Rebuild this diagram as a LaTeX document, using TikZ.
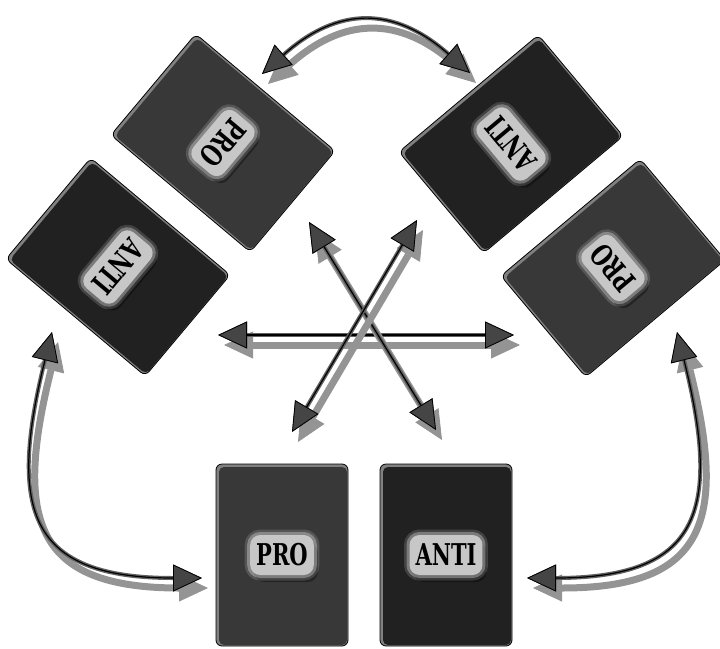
\documentclass[tikz,border=0pt]{standalone}
\usepackage{fontspec}
\usetikzlibrary{arrows.meta}
\newfontfamily\tagfont[FakeStretch=0.7]{DejaVu Serif}

\begin{document}
\begin{tikzpicture}[x=1pt,y=-1pt,
    head/.tip={Triangle[length=29pt,width=27pt,line width=0.8pt]},
    box/.style={draw=black,line width=0.8pt,fill=black!50,rounded corners=6pt,
      minimum width=132pt,minimum height=182pt,inner sep=0pt},
    face/.style={rounded corners=5pt,minimum width=128pt,minimum height=178pt,inner sep=0pt},
    proface/.style={face,fill=black!78},
    antiface/.style={face,fill=black!87},
    tag/.style={fill=black!22,rounded corners=10pt,minimum height=40pt,inner xsep=6pt,
      font=\tagfont\bfseries\fontsize{30}{30}\selectfont,
      preaction={fill=black,opacity=0.35,transform canvas={shift={(4pt,-7pt)}}},
      preaction={draw=white,line width=11pt,opacity=0.15},
      preaction={draw=white,line width=6pt,opacity=0.3}},
    link/.style={line width=1.2pt,draw=black,{head[fill=black!73]}-{head[fill=black!73]},
      preaction={draw=black!42,line width=7pt,{head}-{head},transform canvas={shift={(6pt,-10pt)}}},
      preaction={draw=black!62,line width=4pt}}]
    \useasboundingbox (0,0) rectangle (720,648);
    % Arrow ends
    \coordinate (TL) at (262,74);  % top arc, left
    \coordinate (TR) at (470,73);  % top arc, right
    \coordinate (HL) at (218,335); % middle, left
    \coordinate (HR) at (514,335); % middle, right
    \coordinate (DA) at (309,222); % middle, top left
    \coordinate (DB) at (436,430); % middle, bottom right
    \coordinate (DC) at (417,220); % middle, top right
    \coordinate (DD) at (292,432); % middle, bottom left
    \coordinate (LT) at (52,332);  % left curve, top
    \coordinate (LB) at (202,578); % left curve, bottom
    \coordinate (RT) at (677,332); % right curve, top
    \coordinate (RB) at (527,578); % right curve, bottom
    \draw[link] (TL) .. controls +(76,-68) and +(-76,-67) .. (TR);
    \draw[link] (HL) -- (HR);
    \draw[link] (DA) -- (DB);
    \draw[link] (DC) -- (DD);
    \draw[link] (LT) .. controls +(-45,180) and +(-172,0) .. (LB);
    \draw[link] (RT) .. controls +(45,180) and +(172,0) .. (RB);
    % Bottom pair
    \node[box] (pro1) at (282,555) {};
    \node[proface] (pro1f) at ([shift={(1,1)}]pro1.center) {};
    \node[tag] (pro1t) at (pro1) {PRO};
    \node[box] (anti1) at (446,555) {};
    \node[antiface] (anti1f) at ([shift={(1,1)}]anti1.center) {};
    \node[tag] (anti1t) at (anti1) {ANTI};
    % Top left pair
    \node[box,rotate=-130] (pro2) at (223,143) {};
    \node[proface,rotate=-130] (pro2f) at ([shift={(1,1)}]pro2.center) {};
    \node[tag,rotate=-130] (pro2t) at (pro2) {PRO};
    \node[box,rotate=-130] (anti2) at (118,267) {};
    \node[antiface,rotate=-130] (anti2f) at ([shift={(1,1)}]anti2.center) {};
    \node[tag,rotate=-130] (anti2t) at (anti2) {ANTI};
    % Top right pair
    \node[box,rotate=130] (anti3) at (511,144) {};
    \node[antiface,rotate=130] (anti3f) at ([shift={(1,1)}]anti3.center) {};
    \node[tag,rotate=130] (anti3t) at (anti3) {ANTI};
    \node[box,rotate=130] (pro3) at (613,268) {};
    \node[proface,rotate=130] (pro3f) at ([shift={(1,1)}]pro3.center) {};
    \node[tag,rotate=130] (pro3t) at (pro3) {PRO};
\end{tikzpicture}
\end{document}
